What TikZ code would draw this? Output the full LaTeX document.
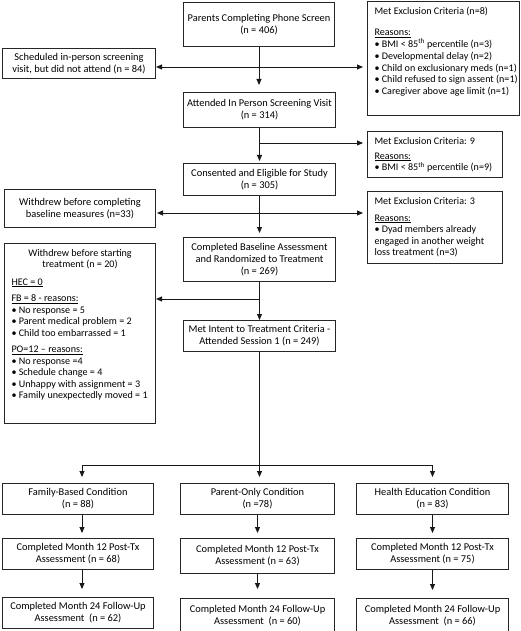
\documentclass[tikz,border=0pt]{standalone}
\usepackage{fontspec}
\setmainfont{Carlito}
\usetikzlibrary{arrows.meta}
\newcommand{\fs}{\fontsize{10.4pt}{12pt}\selectfont}
\newcommand{\fsl}{\fontsize{10.1pt}{11.6pt}\selectfont}
\newcommand{\ul}[1]{\underline{#1}}
\newcommand{\sth}{\textsuperscript{th}}
\newcommand{\bl}[1]{\mbox{• #1}}
\newcommand{\lpad}{\raggedright\setlength{\leftskip}{7pt}\setlength{\rightskip}{0pt plus 1fil}}
\begin{document}
\begin{tikzpicture}[x=1pt,y=-1pt,
  box/.style={draw=black!85, line width=1pt, inner sep=0pt, anchor=north west, align=center, font=\fs},
  tbox/.style={draw=black!85, line width=1pt, inner sep=0pt, anchor=north west, font=\fsl},
  arr/.style={draw=black!90, line width=0.9pt, -{Triangle[length=6pt,width=5pt]}},
  ln/.style={draw=black!90, line width=0.9pt}]
\useasboundingbox (0,0) rectangle (520,631);

% main column
\node[box, minimum width=151pt, minimum height=44pt] (phone) at (183,2) {Parents Completing Phone Screen\\(n = 406)};
\node[box, minimum width=152pt, minimum height=35pt] (attended) at (183,92) {Attended In Person Screening Visit\\(n = 314)};
\node[box, minimum width=152pt, minimum height=32pt] (consented) at (183,163) {Consented and Eligible for Study\\(n = 305)};
\node[box, minimum width=152pt, minimum height=44pt] (baseline) at (183,237) {Completed Baseline Assessment\\and Randomized to Treatment\\(n = 269)};
\node[box, minimum width=152pt, minimum height=31pt] (intent) at (183,320) {Met Intent to Treatment Criteria -\\Attended Session 1 (n = 249)};

% left boxes
\node[box, minimum width=153pt, minimum height=30pt] (sched) at (2,48) {Scheduled in-person screening\\visit, but did not attend (n = 84)};
\node[box, minimum width=151pt, minimum height=38pt] (wbase) at (4,189) {Withdrew before completing\\baseline measures (n=33)};
\node[tbox] (wstart) at (4,243) {\parbox[c][180pt][t]{151pt}{\vspace*{6pt}%
  {\centering\setlength{\baselineskip}{11pt}Withdrew before starting\\treatment (n = 20)\par}%
  \lpad\setlength{\baselineskip}{11.5pt}%
  \vspace{6pt}\ul{HEC = 0}\par
  \vspace{5pt}\ul{FB = 8 - reasons:}\\
  \bl{No response = 5}\\
  \bl{Parent medical problem = 2}\\
  \bl{Child too embarrassed = 1}\par
  \vspace{5pt}\ul{PO=12 – reasons:}\\
  \bl{No response =4}\\
  \bl{Schedule change = 4}\\
  \bl{Unhappy with assignment = 3}\\
  \bl{Family unexpectedly moved = 1}\par}};

% right boxes
\node[tbox] (excl8) at (367,1) {\parbox[c][114pt][t]{152pt}{\vspace*{6pt}%
  \lpad\setlength{\baselineskip}{11.8pt}%
  Met Exclusion Criteria (n=8)\par
  \vspace{9pt}\ul{Reasons:}\\
  \bl{BMI < 85\sth\ percentile (n=3)}\\
  \bl{Developmental delay (n=2)}\\
  \bl{Child on exclusionary meds (n=1)}\\
  \bl{Child refused to sign assent (n=1)}\\
  \bl{Caregiver above age limit (n=1)}\par}};
\node[tbox] (excl9) at (367,131) {\parbox[c][46pt][t]{135pt}{\vspace*{6pt}%
  \lpad\setlength{\baselineskip}{11.7pt}%
  Met Exclusion Criteria: 9\par
  \vspace{3pt}\ul{Reasons:}\\
  \bl{BMI < 85\sth\ percentile (n=9)}\par}};
\node[tbox] (excl3) at (367,191) {\parbox[c][72pt][t]{135pt}{\vspace*{6pt}%
  \lpad\setlength{\baselineskip}{11.5pt}%
  Met Exclusion Criteria: 3\par
  \vspace{5pt}\ul{Reasons:}\\
  \bl{Dyad members already}\\
  engaged in another weight\\
  loss treatment (n=3)\par}};

% treatment arms
\node[box, minimum width=151pt, minimum height=31pt] (fb) at (2,483) {Family-Based Condition\\(n = 88)};
\node[box, minimum width=154pt, minimum height=31pt] (po) at (180,483) {Parent-Only Condition\\(n =78)};
\node[box, minimum width=152pt, minimum height=31pt] (he) at (356,483) {Health Education Condition\\(n = 83)};
\node[box, minimum width=151pt, minimum height=31pt] (fb12) at (2,538) {Completed Month 12 Post-Tx\\Assessment (n = 68)};
\node[box, minimum width=154pt, minimum height=35pt] (po12) at (180,538) {Completed Month 12 Post-Tx\\Assessment (n = 63)};
\node[box, minimum width=152pt, minimum height=31pt] (he12) at (356,538) {Completed Month 12 Post-Tx\\Assessment (n = 75)};
\node[box, minimum width=151pt, minimum height=31pt] (fb24) at (2,597) {Completed Month 24 Follow-Up\\Assessment\ \ (n = 62)};
\node[box, minimum width=154pt, minimum height=35pt] (po24) at (180,598) {Completed Month 24 Follow-Up\\Assessment\ \ (n = 60)};
\node[box, minimum width=152pt, minimum height=35pt] (he24) at (356,598) {Completed Month 24 Follow-Up\\Assessment\ \ (n = 66)};

% connectors, main column
\draw[arr, shorten >=7pt] (phone.south) -- (phone.south |- attended.north);
\path (phone.south) ++(0,20) coordinate (j1);
\draw[arr] (j1) -- (j1 -| sched.east);
\draw[arr, shorten >=4pt] (j1) -- (j1 -| excl8.west);

\draw[arr, shorten >=2pt] (attended.south) -- (attended.south |- consented.north);
\path (attended.south) ++(0,15) coordinate (j2);
\draw[arr, shorten >=4pt] (j2) -- (j2 -| excl9.west);

\draw[arr, shorten >=4pt] (consented.south) -- (consented.south |- baseline.north);
\path (consented.south) ++(0,17) coordinate (j3);
\draw[arr, shorten >=1pt] (j3) -- (j3 -| wbase.east);
\draw[arr, shorten >=4pt] (j3) -- (j3 -| excl3.west);

\draw[arr] (baseline.south) -- (baseline.south |- intent.north);
\path (baseline.south) ++(0,17) coordinate (j4);
\draw[arr] (j4) -- (j4 -| wstart.east);

\path (intent.south) ++(0,113) coordinate (j5);
\draw[ln] (intent.south) -- (j5);
\coordinate (cfb) at ([xshift=4pt]fb.north);
\draw[ln] (j5 -| cfb) -- (j5 -| he.north);
\draw[arr, shorten >=6pt] (j5 -| cfb) -- (cfb);
\draw[arr, shorten >=6pt] (j5) -- (j5 |- po.north);
\draw[arr, shorten >=6pt] (j5 -| he.north) -- (he.north);

% arms
\draw[arr, shorten >=5pt] ([xshift=4pt]fb.south) -- ([xshift=4pt]fb12.north);
\draw[arr, shorten >=5pt] (po.south) -- (po12.north);
\draw[arr, shorten >=5pt] (he.south) -- (he12.north);
\draw[arr, shorten >=8pt] ([xshift=4pt]fb12.south) -- ([xshift=4pt]fb24.north);
\draw[arr, shorten >=9pt] (po12.south) -- (po24.north);
\draw[arr, shorten >=8pt] (he12.south) -- (he24.north);
\end{tikzpicture}
\end{document}
